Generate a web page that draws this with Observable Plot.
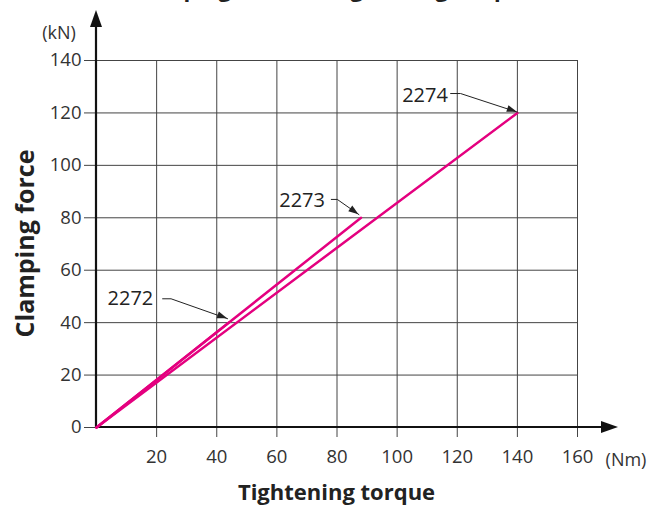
<!DOCTYPE html>
<html><head><meta charset="utf-8">
<script src="https://cdn.jsdelivr.net/npm/d3@7"></script>
<script src="https://cdn.jsdelivr.net/npm/@observablehq/plot@0.6"></script>
<style>
body{margin:0;background:#fff;font-family:"Open Sans",sans-serif;}
#wrap{position:relative;width:660px;height:509px;overflow:hidden;background:#fff;}
#title{position:absolute;left:0;width:656px;text-align:center;top:-27px;font:bold 22px "Open Sans",sans-serif;color:#222;white-space:nowrap;}
#chart{position:absolute;left:0;top:0;}
</style></head><body>
<div id="wrap"><div id="chart"></div><div id="title">Clamping force vs. tightening torque</div></div>
<script>
const series = ["2272", "2273", "2274"];
const torqueEnd = [44, 88, 140];
const forceEnd = [40, 80, 120];
const xTicks = [20, 40, 60, 80, 100, 120, 140, 160];
const yTicks = [0, 20, 40, 60, 80, 100, 120, 140];
const labelX = [18.9, 76.0, 116.9];
const labelY = [49.1, 86.4, 126.7];
const elbowStartX = [22.0, 78.1, 117.8];
const elbowEndX = [24.8, 80.1, 121.1];
const elbowY = [49.1, 87.0, 127.4];
const tipX = [43.6, 87.3, 140];
const tipY = [41.5, 81.2, 120.3];

const lineData = series.flatMap((s, i) => [{s, t: 0, f: 0}, {s, t: torqueEnd[i], f: forceEnd[i]}]);
const leaderData = series.flatMap((s, i) => [
  {s, x: elbowStartX[i], y: elbowY[i]},
  {s, x: elbowEndX[i], y: elbowY[i]},
  {s, x: tipX[i], y: tipY[i]}
]);
const labelData = series.map((s, i) => ({s, x: labelX[i], y: labelY[i]}));

const chart = Plot.plot({
  width: 660, height: 509,
  marginLeft: 96, marginRight: 83, marginTop: 60, marginBottom: 82,
  x: {domain: [0, 160], axis: null},
  y: {domain: [0, 140], axis: null},
  style: {fontFamily: "'Open Sans', sans-serif", fontSize: "18px", color: "#333", background: "#fff", overflow: "visible"},
  marks: [
    Plot.gridX(xTicks, {stroke: "#444", strokeOpacity: 1, strokeWidth: 1}),
    Plot.gridY(yTicks.filter(d => d > 0), {stroke: "#444", strokeOpacity: 1, strokeWidth: 1}),
    Plot.axisX(xTicks, {tickSize: 10, tickPadding: 12, fontSize: 18.5, label: null, stroke: "#444", fill: "#333"}),
    Plot.axisY(yTicks, {tickSize: 12, tickPadding: 3, fontSize: 18.5, label: null, stroke: "#444", fill: "#333"}),
    Plot.line(lineData, {x: "t", y: "f", z: "s", stroke: "#e4007f", strokeWidth: 2.5}),
    Plot.line(leaderData, {x: "x", y: "y", z: "s", stroke: "#222", strokeWidth: 1}),
    Plot.text(labelData, {x: "x", y: "y", text: "s", textAnchor: "end", fontSize: 20, fill: "#222"})
  ]
});
document.getElementById("chart").appendChild(chart);

const svg = d3.select(chart);
const X = chart.scale("x"), Y = chart.scale("y");
const x0 = X.apply(0), y0 = Y.apply(0), yTop = Y.apply(140), xRight = X.apply(160);

const ax = svg.insert("g", 'g[aria-label="line"]');
const yTip = yTop - 50, xTip = xRight + 41;
ax.append("line").attr("x1", x0).attr("x2", x0).attr("y1", y0 + 1).attr("y2", yTip + 10).attr("stroke", "#111").attr("stroke-width", 2.2);
ax.append("path").attr("d", `M${x0},${yTip}L${x0 - 6},${yTip + 17}L${x0 + 6},${yTip + 17}Z`).attr("fill", "#111");
ax.append("line").attr("x1", x0 - 1).attr("x2", xTip - 10).attr("y1", y0).attr("y2", y0).attr("stroke", "#111").attr("stroke-width", 2.2);
ax.append("path").attr("d", `M${xTip},${y0}L${xTip - 17},${y0 - 6}L${xTip - 17},${y0 + 6}Z`).attr("fill", "#111");

// leader arrowheads
series.forEach((s, i) => {
  const px = X.apply(tipX[i]), py = Y.apply(tipY[i]);
  const bx = X.apply(elbowEndX[i]), by = Y.apply(elbowY[i]);
  const a = Math.atan2(py - by, px - bx);
  const L = 10, W = 3.5;
  const cx = px - L * Math.cos(a), cy = py - L * Math.sin(a);
  const nx = -Math.sin(a) * W, ny = Math.cos(a) * W;
  svg.append("path").attr("d", `M${px},${py}L${cx + nx},${cy + ny}L${cx - nx},${cy - ny}Z`).attr("fill", "#222");
});

const txt = svg.append("g").attr("fill", "#333").attr("font-family", "'Open Sans', sans-serif");
txt.append("text").attr("x", x0 - 37).attr("y", yTop - 27).attr("text-anchor", "middle").attr("dy", "0.35em").attr("font-size", 18).text("(kN)");
txt.append("text").attr("x", xRight + 49).attr("y", y0 + 33).attr("text-anchor", "middle").attr("dy", "0.35em").attr("font-size", 18).text("(Nm)");
txt.append("text").attr("x", (x0 + xRight) / 2).attr("y", 500).attr("text-anchor", "middle").attr("font-size", 22).attr("font-weight", "bold").attr("fill", "#222").text("Tightening torque");
txt.append("text").attr("transform", `translate(34,${(y0 + yTop) / 2}) rotate(-90)`).attr("text-anchor", "middle").attr("font-size", 25).attr("font-weight", "bold").attr("fill", "#222").text("Clamping force");
</script>
</body></html>
